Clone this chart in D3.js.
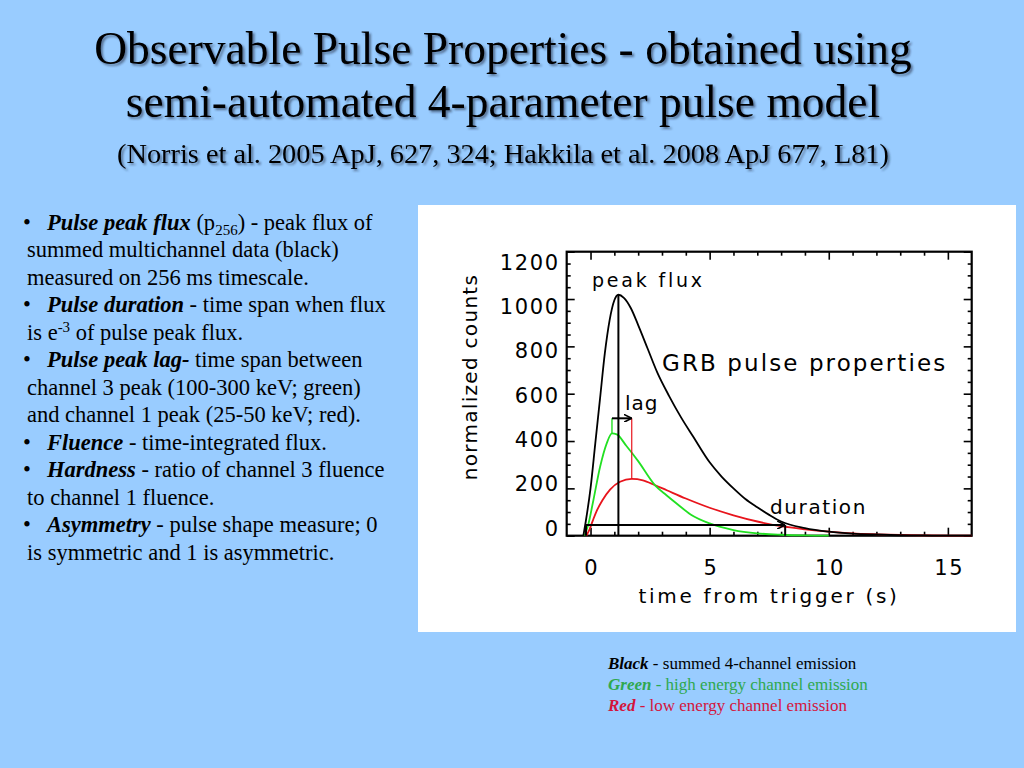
<!DOCTYPE html>
<html>
<head>
<meta charset="utf-8">
<script src="https://cdn.jsdelivr.net/npm/d3@7"></script>
<style>
  body { margin: 0; background: #99ccff; }
  svg { display: block; }
</style>
</head>
<body>
<div id="chart"></div>
<script>
// pulse curves: time (s) and normalized counts
var blackT = [-0.3, -0.2, 0, 0.2, 0.4, 0.6, 0.8, 1.0, 1.17, 1.4, 1.7, 2.0, 2.4, 2.8, 3.3, 3.8, 4.3, 5.0, 5.5, 6.0, 6.5, 7.0, 7.5, 8.0, 9.0, 10, 11, 12, 13, 14, 15, 16];
var blackV = [0, 60, 200, 390, 580, 770, 910, 995, 1018, 1005, 960, 890, 790, 690, 590, 500, 420, 310, 250, 200, 155, 120, 88, 60, 32, 17, 9, 5, 2, 1, 0, 0];

var greenT = [-0.25, -0.1, 0.12, 0.4, 0.68, 0.9, 1.1, 1.5, 2.0, 2.7, 3.2, 3.6, 4.2, 5.0, 6.0, 7.0, 8.0, 9.0, 10];
var greenV = [0, 45, 150, 290, 390, 432, 428, 380, 315, 214, 170, 137, 90, 52, 24, 10, 4, 1, 0];

var redT = [-0.18, -0.05, 0.1, 0.26, 0.5, 0.82, 1.24, 1.73, 2.2, 2.7, 3.2, 4.0, 5.0, 6.0, 7.0, 8.0, 9.0, 10, 11, 12, 13, 14, 15, 16];
var redV = [0, 25, 65, 105, 150, 195, 228, 240, 234, 214, 192, 157, 118, 86, 60, 40, 27, 17, 10, 6, 3, 1.5, 0.5, 0];

var xTicks = [0, 5, 10, 15];
var yTicks = [0, 200, 400, 600, 800, 1000, 1200];

// annotation values
var peakT = 1.17, peakV = 1018;
var lagFromT = 0.9, lagToT = 1.73, lagLevel = 496, greenPeakV = 432, redPeakV = 240;
var durFromT = -0.19, durToT = 8.17, durLevel = 45;

var titleLines = [
  "Observable Pulse Properties - obtained using",
  "semi-automated 4-parameter pulse model",
  "(Norris et al. 2005 ApJ, 627, 324; Hakkila et al. 2008 ApJ 677, L81)"
];

var notes = [
  {bullet: true, parts: [["bi", "Pulse peak flux"], ["n", " (p"], ["sub", "256"], ["n", ") - peak flux of"]]},
  {parts: [["n", "summed multichannel data (black)"]]},
  {parts: [["n", "measured on 256 ms timescale."]]},
  {bullet: true, parts: [["bi", "Pulse duration"], ["n", " - time span when flux"]]},
  {parts: [["n", "is e"], ["sup", "-3"], ["n", " of pulse peak flux."]]},
  {bullet: true, parts: [["bi", "Pulse peak lag-"], ["n", " time span between"]]},
  {parts: [["n", "channel 3 peak (100-300 keV; green)"]]},
  {parts: [["n", "and channel 1 peak (25-50 keV; red)."]]},
  {bullet: true, parts: [["bi", "Fluence"], ["n", " - time-integrated flux."]]},
  {bullet: true, parts: [["bi", "Hardness"], ["n", " - ratio of channel 3 fluence"]]},
  {parts: [["n", "to channel 1 fluence."]]},
  {bullet: true, parts: [["bi", "Asymmetry"], ["n", " - pulse shape measure; 0"]]},
  {parts: [["n", "is symmetric and 1 is asymmetric."]]}
];

var legendLines = [
  {word: "Black", rest: " - summed 4-channel emission", color: "#000000"},
  {word: "Green", rest: " - high energy channel emission", color: "#2fa84f"},
  {word: "Red", rest: " - low energy channel emission", color: "#d4143c"}
];

var svg = d3.select("#chart")
  .append("svg")
  .attr("width", 1024)
  .attr("height", 768);

var defs = svg.append("defs");
defs.append("filter")
  .attr("id", "shadow")
  .attr("x", "-5%").attr("y", "-20%").attr("width", "110%").attr("height", "150%")
  .append("feDropShadow")
  .attr("dx", 2).attr("dy", 2).attr("stdDeviation", 1.2)
  .attr("flood-color", "#1a2a40").attr("flood-opacity", 0.55);

defs.append("marker")
  .attr("id", "head")
  .attr("viewBox", "0 0 10 10")
  .attr("refX", 10).attr("refY", 5)
  .attr("markerWidth", 8).attr("markerHeight", 8)
  .attr("markerUnits", "userSpaceOnUse")
  .attr("orient", "auto")
  .append("path")
  .attr("d", "M0,0 L10,5 L0,10")
  .attr("fill", "none")
  .attr("stroke", "#000")
  .attr("stroke-width", 2);

// title
svg.selectAll(".title")
  .data(titleLines)
  .enter()
  .append("text")
  .attr("class", "title")
  .attr("x", 503)
  .attr("y", function(d, i) { return [64, 117, 163][i]; })
  .attr("text-anchor", "middle")
  .attr("font-family", "Liberation Serif, serif")
  .attr("font-size", function(d, i) { return i < 2 ? "45.5px" : "28.3px"; })
  .attr("filter", "url(#shadow)")
  .text(function(d) { return d; });

// left notes
notes.forEach(function(line, i) {
  var yy = 229.5 + i * 27.5;
  if (line.bullet) {
    svg.append("text")
      .attr("x", 23).attr("y", yy)
      .attr("font-family", "Liberation Serif, serif")
      .attr("font-size", "22.5px")
      .text("•");
  }
  var t = svg.append("text")
    .attr("x", line.bullet ? 47 : 27)
    .attr("y", yy)
    .attr("font-family", "Liberation Serif, serif")
    .attr("font-size", "22.5px");
  var shift = 0;
  line.parts.forEach(function(p) {
    var ts = t.append("tspan").text(p[1]);
    if (p[0] === "bi") ts.attr("font-weight", "bold").attr("font-style", "italic");
    if (p[0] === "sub") { ts.attr("font-size", "15px").attr("dy", 5); shift = -5; }
    else if (p[0] === "sup") { ts.attr("font-size", "15px").attr("dy", -8); shift = 8; }
    else if (shift !== 0) { ts.attr("dy", shift); shift = 0; }
  });
});

// white panel for the plot
svg.append("rect")
  .attr("x", 418).attr("y", 205)
  .attr("width", 598).attr("height", 427)
  .attr("fill", "#ffffff");

var plotL = 566.7, plotR = 971.7, plotT = 251.7, plotB = 535.7;

var x = d3.scaleLinear().domain([-1, 16]).range([plotL, plotR]);
var y = d3.scaleLinear().domain([0, 1200]).range([plotB, plotT]);
// IDL puts the y labels a bit squeezed compared to the ticks
var yLab = d3.scaleLinear().domain([0, 1200]).range([527.5, 261.7]);

var xMinor = d3.range(0, 16).filter(function(v) { return v % 5 !== 0; });
var yMinor = d3.range(50, 1200, 50).filter(function(v) { return v % 200 !== 0; });

function clean(g) {
  g.select(".domain").remove();
  g.selectAll("line").attr("stroke-width", 1.6);
}

var chartFont = "DejaVu Sans, sans-serif";

// bottom axis
var xAxis = svg.append("g")
  .attr("transform", "translate(0," + plotB + ")")
  .call(d3.axisBottom(x).tickValues(xTicks).tickSize(-8).tickSizeOuter(0).tickFormat(d3.format("d")))
  .call(clean);
xAxis.selectAll("text")
  .attr("y", 39).attr("dy", 0).attr("dx", 0.8)
  .attr("font-family", chartFont)
  .attr("font-size", "21px")
  .attr("letter-spacing", "1.6px")
  .attr("fill", "#000");
svg.append("g")
  .attr("transform", "translate(0," + plotB + ")")
  .call(d3.axisBottom(x).tickValues(xMinor).tickSize(-4).tickSizeOuter(0).tickFormat(""))
  .call(clean);

// top axis
svg.append("g")
  .attr("transform", "translate(0," + plotT + ")")
  .call(d3.axisTop(x).tickValues(xTicks).tickSize(-8).tickSizeOuter(0).tickFormat(""))
  .call(clean);
svg.append("g")
  .attr("transform", "translate(0," + plotT + ")")
  .call(d3.axisTop(x).tickValues(xMinor).tickSize(-4).tickSizeOuter(0).tickFormat(""))
  .call(clean);

// left axis
var yAxis = svg.append("g")
  .attr("transform", "translate(" + plotL + ",0)")
  .call(d3.axisLeft(y).tickValues(yTicks).tickSize(-8).tickSizeOuter(0).tickFormat(d3.format("d")))
  .call(clean);
yAxis.selectAll("text")
  .attr("x", -7)
  .attr("y", function(d) { return yLab(d) - y(d); })
  .attr("dy", "0.36em")
  .attr("font-family", chartFont)
  .attr("font-size", "21px")
  .attr("letter-spacing", "1.6px")
  .attr("fill", "#000");
svg.append("g")
  .attr("transform", "translate(" + plotL + ",0)")
  .call(d3.axisLeft(y).tickValues(yMinor).tickSize(-4).tickSizeOuter(0).tickFormat(""))
  .call(clean);

// right axis
svg.append("g")
  .attr("transform", "translate(" + plotR + ",0)")
  .call(d3.axisRight(y).tickValues(yTicks).tickSize(-8).tickSizeOuter(0).tickFormat(""))
  .call(clean);
svg.append("g")
  .attr("transform", "translate(" + plotR + ",0)")
  .call(d3.axisRight(y).tickValues(yMinor).tickSize(-4).tickSizeOuter(0).tickFormat(""))
  .call(clean);

// frame
svg.append("rect")
  .attr("x", plotL).attr("y", plotT)
  .attr("width", plotR - plotL).attr("height", plotB - plotT)
  .attr("fill", "none")
  .attr("stroke", "#000")
  .attr("stroke-width", 2.2);

// curves
var line = d3.line()
  .x(function(d) { return x(d[0]); })
  .y(function(d) { return y(d[1]); })
  .curve(d3.curveMonotoneX);

var series = [
  {data: d3.zip(redT, redV), color: "#e8141c"},
  {data: d3.zip(greenT, greenV), color: "#22e022"},
  {data: d3.zip(blackT, blackV), color: "#000000"}
];
svg.selectAll(".curve")
  .data(series)
  .enter()
  .append("path")
  .attr("class", "curve")
  .attr("d", function(d) { return line(d.data); })
  .attr("fill", "none")
  .attr("stroke", function(d) { return d.color; })
  .attr("stroke-width", 1.8);

// peak flux marker
svg.append("line")
  .attr("x1", x(peakT)).attr("x2", x(peakT))
  .attr("y1", y(0)).attr("y2", y(peakV))
  .attr("stroke", "#000").attr("stroke-width", 2);

// lag marker
svg.append("line")
  .attr("x1", x(lagFromT)).attr("x2", x(lagFromT))
  .attr("y1", y(lagLevel)).attr("y2", y(greenPeakV))
  .attr("stroke", "#22e022").attr("stroke-width", 1.4);
svg.append("line")
  .attr("x1", x(lagToT)).attr("x2", x(lagToT))
  .attr("y1", y(lagLevel)).attr("y2", y(redPeakV))
  .attr("stroke", "#e8141c").attr("stroke-width", 1.2);
svg.append("line")
  .attr("x1", x(lagFromT)).attr("x2", x(lagToT))
  .attr("y1", y(lagLevel)).attr("y2", y(lagLevel))
  .attr("stroke", "#000").attr("stroke-width", 2)
  .attr("marker-end", "url(#head)");

// duration marker
svg.append("line")
  .attr("x1", x(durFromT)).attr("x2", x(durToT))
  .attr("y1", y(durLevel)).attr("y2", y(durLevel))
  .attr("stroke", "#000").attr("stroke-width", 2)
  .attr("marker-end", "url(#head)");
[durFromT, durToT].forEach(function(t) {
  svg.append("line")
    .attr("x1", x(t)).attr("x2", x(t))
    .attr("y1", y(durLevel)).attr("y2", y(0))
    .attr("stroke", "#000").attr("stroke-width", 2);
});

// plot labels
var labels = [
  {text: "peak flux", x: 592, y: 287, size: 19, ls: 2.8, anchor: "start"},
  {text: "GRB pulse properties", x: 662, y: 371, size: 23, ls: 2.1, anchor: "start"},
  {text: "lag", x: 625, y: 410, size: 20, ls: 1, anchor: "start"},
  {text: "duration", x: 770, y: 514, size: 20, ls: 1.6, anchor: "start"},
  {text: "time from trigger (s)", x: 769, y: 603, size: 20, ls: 2.7, anchor: "middle"}
];
svg.selectAll(".lbl")
  .data(labels)
  .enter()
  .append("text")
  .attr("class", "lbl")
  .attr("x", function(d) { return d.x; })
  .attr("y", function(d) { return d.y; })
  .attr("text-anchor", function(d) { return d.anchor; })
  .attr("font-family", chartFont)
  .attr("font-size", function(d) { return d.size + "px"; })
  .attr("letter-spacing", function(d) { return d.ls + "px"; })
  .text(function(d) { return d.text; });

svg.append("text")
  .attr("transform", "translate(477,377) rotate(-90)")
  .attr("text-anchor", "middle")
  .attr("font-family", chartFont)
  .attr("font-size", "20px")
  .attr("letter-spacing", "1.3px")
  .text("normalized counts");

// colour legend under the plot
legendLines.forEach(function(d, i) {
  var t = svg.append("text")
    .attr("x", 608)
    .attr("y", 669 + i * 21)
    .attr("font-family", "Liberation Serif, serif")
    .attr("font-size", "17px")
    .attr("fill", d.color);
  t.append("tspan").attr("font-weight", "bold").attr("font-style", "italic").text(d.word);
  t.append("tspan").text(d.rest);
});
</script>
</body>
</html>
